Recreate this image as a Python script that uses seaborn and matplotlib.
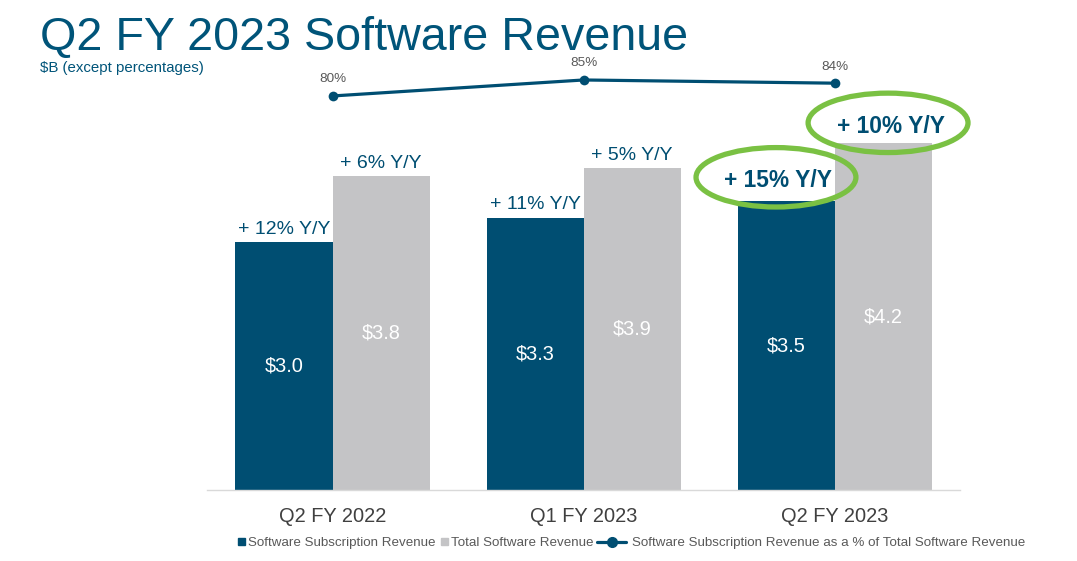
import pandas as pd
import matplotlib.pyplot as plt
import seaborn as sns
from matplotlib.patches import Ellipse, Rectangle, Patch
from matplotlib.lines import Line2D
from matplotlib.legend_handler import HandlerPatch

# Dados do grafico
quarters = ['Q2 FY 2022', 'Q1 FY 2023', 'Q2 FY 2023']
sub_rev = [3.0, 3.3, 3.5]
total_rev = [3.8, 3.9, 4.2]
sub_pct = [80, 85, 84]
sub_yoy = ['+ 12% Y/Y', '+ 11% Y/Y', '+ 15% Y/Y']
total_yoy = ['+ 6% Y/Y', '+ 5% Y/Y', '+ 10% Y/Y']
series = ['Software Subscription Revenue', 'Total Software Revenue']
line_name = 'Software Subscription Revenue as a % of Total Software Revenue'

dark = '#004E72'
gray = '#C4C4C6'
green = '#7AC143'
txt_gray = '#595959'

sns.set_style('white')
plt.rcParams['font.family'] = ['Liberation Sans', 'DejaVu Sans']

df = pd.DataFrame({
    'quarter': quarters * 2,
    'series': [series[0]] * 3 + [series[1]] * 3,
    'value': sub_rev + total_rev,
})

fig = plt.figure(figsize=(10.77, 5.61), dpi=100)
ax = fig.add_axes([0.1922, 0.1266, 0.6992, 0.7665])

sns.barplot(data=df, x='quarter', y='value', hue='series', palette=[dark, gray],
            width=0.773, gap=0, ax=ax, legend=False, saturation=1,
            linewidth=0, edgecolor='none')
ax.set_xlim(-0.5, 2.5)
ax.set_ylim(0, 5.212)
ax.set_xlabel('')
ax.set_ylabel('')
ax.set_yticks([])
for s in ['top', 'right', 'left']:
    ax.spines[s].set_visible(False)
ax.spines['bottom'].set_color('#D9D9D9')
ax.spines['bottom'].set_linewidth(1)
ax.tick_params(axis='x', length=0, pad=12, labelsize=14.4, labelcolor='#404040')

# rotulos das barras
for cont, yoy in zip(ax.containers, [sub_yoy, total_yoy]):
    for i, bar in enumerate(cont):
        cx = bar.get_x() + bar.get_width() / 2
        h = bar.get_height()
        ax.text(cx, h / 2, f'${h:.1f}', color='white', fontsize=14.4,
                ha='center', va='center')
        if i < 2:
            ax.annotate(yoy[i], (cx, h), xytext=(0, 9.5), textcoords='offset points',
                        ha='center', va='center', color=dark, fontsize=14)

# destaque do ultimo trimestre
b1 = ax.containers[0][2]
b2 = ax.containers[1][2]
for bar, label, dx, dy in [(b1, sub_yoy[2], -0.03, 0.25), (b2, total_yoy[2], 0.03, 0.21)]:
    cx = bar.get_x() + bar.get_width() / 2 + dx
    h = bar.get_height()
    ax.text(cx, h + dy, label, color=dark, fontsize=16.4, fontweight='bold',
            ha='center', va='center')
    ax.add_patch(Ellipse((cx - 0.01, h + dy + 0.04), 0.637, 0.72, fill=False,
                         edgecolor=green, lw=3.8, clip_on=False, zorder=5))

# linha de percentual
ax2 = ax.twinx()
pos = list(range(len(quarters)))
sns.lineplot(x=pos, y=sub_pct, ax=ax2, color=dark, linewidth=2.3, marker='o',
             markersize=7, markeredgewidth=0)
ax2.set_ylim(-43.125, 91.25)
ax2.set_yticks([])
ax2.set_ylabel('')
for s in ax2.spines.values():
    s.set_visible(False)
for x, p in zip(pos, sub_pct):
    ax2.annotate(f'{p}%', (x, p), xytext=(0, 12), textcoords='offset points',
                 ha='center', va='center', color=txt_gray, fontsize=9.7)

# titulo
fig.text(40 / 1077, 1 - 50 / 561, 'Q2 FY 2023 Software Revenue', fontsize=33.6,
         color='#005479', ha='left', va='baseline')
fig.text(40 / 1077, 1 - 72 / 561, '$B (except percentages)', fontsize=10.8,
         color='#005479', ha='left', va='baseline')


# legenda: quadradinho encostado no texto
def small_square(legend, orig_handle, xdescent, ydescent, width, height, fontsize):
    s = 5
    return Rectangle((-xdescent + width - s, -ydescent + (height - s) / 2), s, s)


leg_y = 1 - 543 / 561
leg1 = fig.legend([Patch(color=dark), Patch(color=gray)], series, loc='center left',
                  ncol=2, bbox_to_anchor=(238 / 1077, leg_y), frameon=False,
                  borderpad=0, borderaxespad=0,
                  handlelength=0.5, handletextpad=0.25, columnspacing=0.4,
                  handler_map={Patch: HandlerPatch(patch_func=small_square)},
                  prop={'size': 9.6}, labelcolor=txt_gray)
fig.legend([Line2D([], [], marker='o', color=dark, linewidth=2.3, markersize=7)],
           [line_name], loc='center left', bbox_to_anchor=(597 / 1077, leg_y),
           frameon=False, borderpad=0, borderaxespad=0,
           handlelength=2.2, handletextpad=0.4,
           prop={'size': 9.6}, labelcolor=txt_gray)

fig.savefig('out.png', dpi=100)
